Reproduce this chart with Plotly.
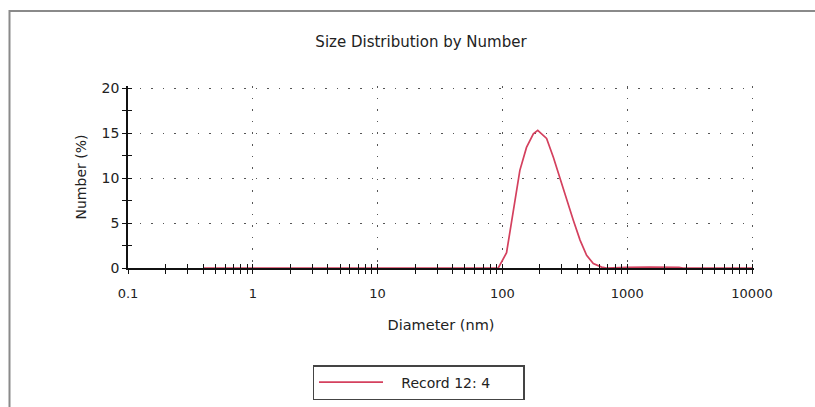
import plotly.graph_objects as go

# Data
diameter_nm = [0.4, 1, 10, 50, 80, 92.7, 108, 122, 138, 156, 177, 192, 226, 256, 290,
               327, 370, 419, 473, 535, 624, 685, 800, 950, 1000, 1500, 2000, 2600, 2800,
               5000, 10000]
number_pct = [0, 0, 0, 0, 0, 0, 1.7, 6.4, 10.85, 13.4, 14.9, 15.3, 14.4, 12.3, 9.9,
              7.5, 5.3, 3.1, 1.4, 0.5, 0.1, 0, 0, 0, 0.08, 0.1, 0.1, 0.08, 0,
              0, 0]
series_name = "Record 12: 4"
x_tick_vals = [0.1, 1, 10, 100, 1000, 10000]
x_tick_text = ["0.1", "1", "10", "100", "1000", "10000"]
y_tick_vals = [0, 5, 10, 15, 20]

W, H = 815, 407
# pixel positions of axis extremes (0.1 / 10000, 0 / 20), with 2px headroom so the
# edge gridlines are drawn
X0, X1, Y0, Y1 = 128, 752, 268, 88
PAD = 2
L, R, T, B = X0, X1 + PAD, Y1 - PAD, Y0
pw, ph = R - L, B - T
x_range_log = [-1, 4 + PAD * 5 / (X1 - X0)]
y_range = [0, 20 + PAD * 20 / (Y0 - Y1)]

def px_x(p):
    return (p - L) / pw

def px_y(p):
    return (B - p) / ph

font = "DejaVu Sans, Liberation Sans, Arial, sans-serif"
red = "#d4405e"
grid_col = "#555555"
txt = "#222222"
dash = "1.6px,10px"

fig = go.Figure()
fig.add_trace(go.Scatter(x=diameter_nm, y=number_pct, mode="lines",
                         name="\u00a0\u00a0\u00a0" + series_name,
                         line=dict(color=red, width=1.7), hoverinfo="x+y"))
# invisible trace on overlay axes so the inward ticks render
fig.add_trace(go.Scatter(x=diameter_nm, y=number_pct, mode="lines", xaxis="x2", yaxis="y2",
                         line=dict(color="rgba(0,0,0,0)", width=0), showlegend=False,
                         hoverinfo="skip"))

axis_common = dict(showline=True, linecolor="#111111", linewidth=1.5, ticks="outside",
                   tickcolor="#111111", ticklen=4, tickwidth=1.2, zeroline=False,
                   layer="below traces", automargin=False)

fig.update_layout(
    width=W, height=H,
    margin=dict(l=L, r=W - R, t=T, b=H - B, autoexpand=False),
    paper_bgcolor="white", plot_bgcolor="white",
    font=dict(family=font, size=13, color=txt),
    title=dict(text="Size Distribution by Number", x=px_x(421), xref="paper", xanchor="center",
               y=1 - 42 / H, yref="container", yanchor="middle",
               font=dict(family=font, size=15, color=txt)),
    xaxis=dict(type="log", range=x_range_log, tickvals=x_tick_vals, ticktext=x_tick_text,
               showgrid=True, gridcolor=grid_col, griddash=dash, gridwidth=1.3,
               minor=dict(ticks="outside", ticklen=4, tickcolor="#111111", tickwidth=1.2,
                          dtick="D1", showgrid=False),
               ticklabelstandoff=9,
               title=dict(text="Diameter (nm)", standoff=20, font=dict(size=14.5)),
               tickfont=dict(size=13), **axis_common),
    yaxis=dict(range=y_range, tickvals=y_tick_vals, showgrid=True, gridcolor=grid_col,
               griddash=dash, gridwidth=1.3,
               minor=dict(ticks="outside", ticklen=4, tickcolor="#111111", tickwidth=1.2,
                          dtick=2.5, showgrid=False),
               title=dict(text="Number (%)", standoff=12, font=dict(size=14)),
               tickfont=dict(size=14), **axis_common),
    xaxis2=dict(type="log", range=x_range_log, overlaying="x", anchor="y2", side="bottom",
                tickvals=x_tick_vals, showticklabels=False, ticks="inside", ticklen=4,
                tickcolor="#111111", tickwidth=1.2, showgrid=False, showline=False,
                zeroline=False,
                minor=dict(ticks="inside", ticklen=4, tickcolor="#111111", tickwidth=1.2,
                           dtick="D1", showgrid=False)),
    yaxis2=dict(range=y_range, overlaying="y", anchor="x2", side="left",
                tickvals=y_tick_vals, showticklabels=False, ticks="inside", ticklen=4,
                tickcolor="#111111", tickwidth=1.2, showgrid=False, showline=False,
                zeroline=False,
                minor=dict(ticks="inside", ticklen=4, tickcolor="#111111", tickwidth=1.2,
                           dtick=2.5, showgrid=False)),
    showlegend=True,
    legend=dict(x=px_x(418.5), y=px_y(382.5), xanchor="center", yanchor="middle",
                orientation="h", bordercolor="#444444", borderwidth=1.5,
                bgcolor="white", itemwidth=64, entrywidth=130,
                font=dict(family=font, size=14, color=txt)),
    shapes=[dict(type="rect", xref="paper", yref="paper",
                 x0=px_x(9.5), x1=px_x(830), y0=px_y(420), y1=px_y(11),
                 line=dict(color="#8a8a8a", width=2), layer="below")],
)

fig.write_html("out.html", config={"displayModeBar": False},
               post_script="document.body.style.margin='0px';")
